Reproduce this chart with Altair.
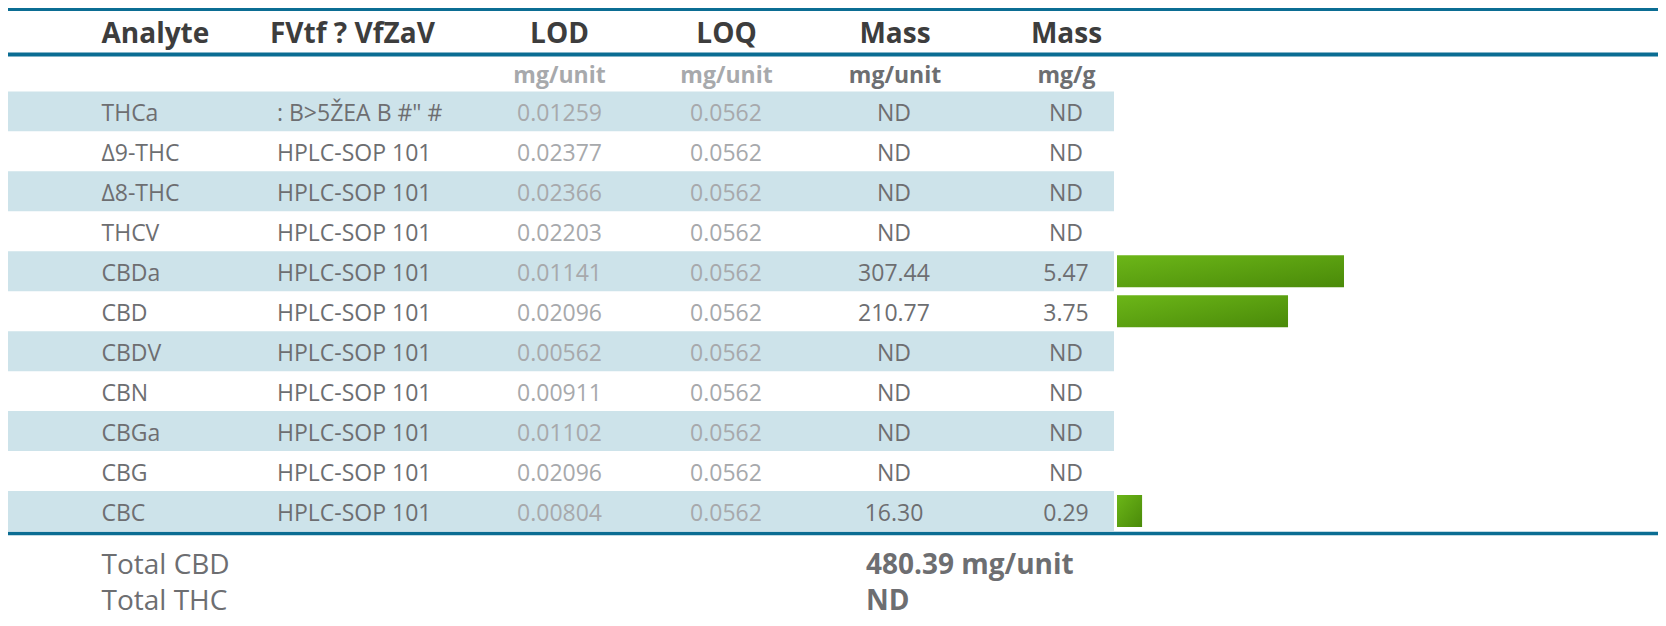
import altair as alt
import pandas as pd

# ---- data ----
analytes = ["THCa", "Δ9-THC", "Δ8-THC", "THCV", "CBDa", "CBD", "CBDV", "CBN", "CBGa", "CBG", "CBC"]
methods = [":  B>5ŽEA B #\" #"] + ["HPLC-SOP 101"] * 10
lod = ["0.01259", "0.02377", "0.02366", "0.02203", "0.01141", "0.02096",
       "0.00562", "0.00911", "0.01102", "0.02096", "0.00804"]
loq = ["0.0562"] * 11
mass_unit = ["ND", "ND", "ND", "ND", "307.44", "210.77", "ND", "ND", "ND", "ND", "16.30"]
mass_g = ["ND", "ND", "ND", "ND", "5.47", "3.75", "ND", "ND", "ND", "ND", "0.29"]
headers = ["Analyte", "FVtf ? VfZaV", "LOD", "LOQ", "Mass", "Mass"]
units = ["mg/unit", "mg/unit", "mg/unit", "mg/g"]
totals_labels = ["Total CBD", "Total THC"]
totals_values = ["480.39 mg/unit", "ND"]

df = pd.DataFrame({
    "analyte": analytes,
    "method": methods,
    "lod": lod,
    "loq": loq,
    "mass_unit": mass_unit,
    "mass_g": mass_g,
})
df["band"] = [i % 2 == 0 for i in range(len(df))]
df["bar"] = [float(v) if v != "ND" else None for v in mass_g]

FONT = "Open Sans"
DARK = "#3d3d3d"
GRAY = "#6d6e71"
LIGHT = "#a7a9ac"
BLUE = "#0b6d93"
BAND = "#cde3ea"

W, H = 1650, 610

Y = alt.Y("analyte:N",
          scale=alt.Scale(domain=analytes, range=[83.4, 523], paddingInner=0, paddingOuter=0),
          axis=None)

layers = []

# row bands
layers.append(
    alt.Chart(df).transform_filter("datum.band")
    .mark_rect(color=BAND)
    .encode(x=alt.value(0), x2=alt.value(1106), y=Y)
)

# bars
grad = alt.Gradient(gradient="linear",
                    stops=[alt.GradientStop(color="#6cb618", offset=0),
                           alt.GradientStop(color="#4a8a09", offset=1)],
                    x1=0, x2=1, y1=0, y2=1)
layers.append(
    alt.Chart(df).transform_filter("isValid(datum.bar)")
    .mark_bar(height=32, color=grad)
    .encode(
        x=alt.X("bar:Q", scale=alt.Scale(type="pow", exponent=0.75, domain=[0, 5.47],
                                         range=[1109, 1336], nice=False), axis=None),
        y=Y,
    )
)


def col(field, x, align, color, size=23, weight="normal", dy=10):
    return (alt.Chart(df)
            .mark_text(align=align, baseline="alphabetic", dy=dy, font=FONT,
                       fontSize=size, fontWeight=weight, color=color)
            .encode(x=alt.value(x), y=Y, text=f"{field}:N"))


def fixed(label, x, y, align, color, size, weight="normal"):
    return (alt.Chart(pd.DataFrame({"t": [label]}))
            .mark_text(align=align, baseline="alphabetic", font=FONT,
                       fontSize=size, fontWeight=weight, color=color)
            .encode(x=alt.value(x), y=alt.value(y), text="t:N"))


layers += [
    col("analyte", 93.5, "left", GRAY),
    col("method", 269, "left", GRAY),
    col("lod", 551.5, "center", LIGHT),
    col("loq", 718, "center", LIGHT),
    col("mass_unit", 886, "center", GRAY),
    col("mass_g", 1058, "center", GRAY),
]

# headers
hx = [(93.5, "left"), (262, "left"), (551.5, "center"), (718.5, "center"), (887, "center"), (1058.5, "center")]
for lab, (x, a) in zip(headers, hx):
    layers.append(fixed(lab, x, 34.7, a, DARK, 28, "bold"))

# units
ux = [551.5, 718.5, 887, 1058.5]
ucol = [LIGHT, LIGHT, GRAY, GRAY]
for lab, x, c in zip(units, ux, ucol):
    layers.append(fixed(lab, x, 74.7, "center", c, 23, "bold"))

# totals
for lab, val, y in zip(totals_labels, totals_values, [566, 602]):
    layers.append(fixed(lab, 93.5, y, "left", GRAY, 28))
    layers.append(fixed(val, 858, y, "left", GRAY, 28, "bold"))

# rules
def rule(y, w):
    return (alt.Chart(pd.DataFrame({"a": [0]}))
            .mark_rule(color=BLUE, strokeWidth=w)
            .encode(x=alt.value(0), x2=alt.value(W), y=alt.value(y)))

layers += [rule(1.5, 3), rule(46.5, 4), rule(525.5, 3.5)]

chart = (alt.layer(*layers)
         .properties(width=W, height=H, autosize=alt.AutoSizeParams(type="none"), padding=0,
                     background="white")
         .configure_view(stroke=None))

chart.save("out.html", embed_options={"renderer": "svg", "actions": False})
